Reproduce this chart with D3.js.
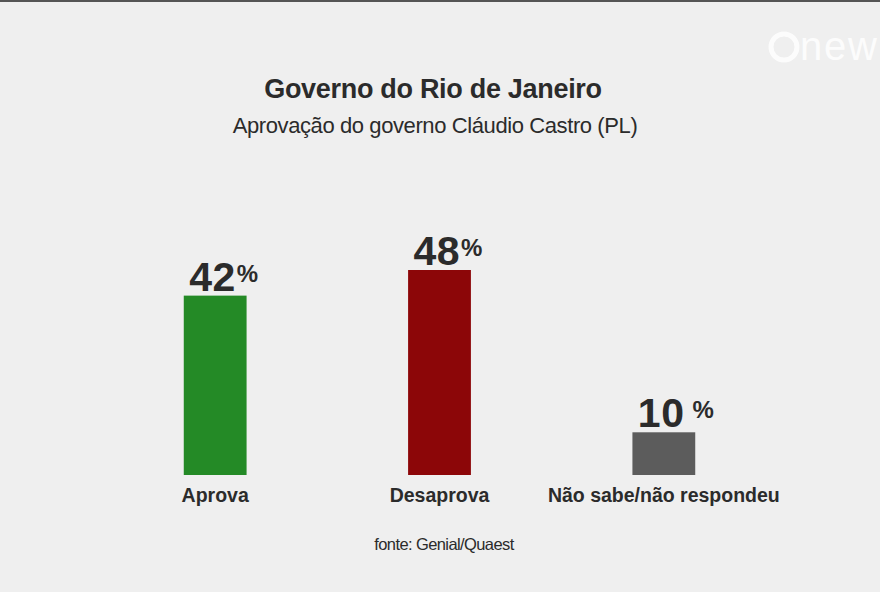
<!DOCTYPE html>
<html>
<head>
<meta charset="utf-8">
<script src="https://cdn.jsdelivr.net/npm/d3@7"></script>
<style>
    html, body { margin: 0; padding: 0; background: #efefef; }
    svg { display: block; font-family: "Liberation Sans", Arial, sans-serif; }
</style>
</head>
<body>
<div id="chart"></div>
<script>
    var categories = ["Aprova", "Desaprova", "Não sabe/não respondeu"];
    var values = [42, 48, 10];
    var colors = ["#248a26", "#8c0608", "#5c5c5c"];
    var title = "Governo do Rio de Janeiro";
    var subtitle = "Aprovação do governo Cláudio Castro (PL)";
    var source = "fonte: Genial/Quaest";

    var width = 880, height = 592;
    var baseline = 475;

    var svg = d3.select("#chart").append("svg")
        .attr("width", width)
        .attr("height", height);

    svg.append("rect")
        .attr("width", width).attr("height", height)
        .attr("fill", "#efefef");

    // thin dark strip at the top edge
    svg.append("rect")
        .attr("width", width).attr("height", 2)
        .attr("fill", "#555");

    // faint channel logo at the right edge
    var logo = svg.append("g").attr("opacity", 0.85);
    logo.append("circle")
        .attr("cx", 784).attr("cy", 47).attr("r", 13)
        .attr("fill", "none").attr("stroke", "#fff").attr("stroke-width", 5);
    logo.append("text")
        .attr("x", 800).attr("y", 60)
        .attr("font-size", 40).attr("fill", "#fff")
        .attr("letter-spacing", -1)
        .attr("textLength", 76)
        .text("new");

    svg.append("text")
        .attr("x", 433).attr("y", 98)
        .attr("text-anchor", "middle")
        .attr("font-size", 27).attr("font-weight", "bold")
        .attr("fill", "#2b2b2b")
        .attr("letter-spacing", -0.3)
        .text(title);

    svg.append("text")
        .attr("x", 435).attr("y", 133)
        .attr("text-anchor", "middle")
        .attr("font-size", 22)
        .attr("fill", "#2b2b2b")
        .attr("letter-spacing", -0.4)
        .text(subtitle);

    var x = d3.scaleBand()
        .domain(categories)
        .range([103, 776])
        .paddingInner(0.72)
        .paddingOuter(0.36);

    var y = d3.scaleLinear()
        .domain([0, 48])
        .range([baseline, 270]);

    svg.selectAll(".bar")
        .data(values)
        .enter()
        .append("rect")
        .attr("class", "bar")
        .attr("x", function(d, i) { return x(categories[i]); })
        .attr("y", function(d) { return y(d); })
        .attr("width", x.bandwidth())
        .attr("height", function(d) { return baseline - y(d); })
        .attr("fill", function(d, i) { return colors[i]; });

    var labels = svg.selectAll(".value-label")
        .data(values)
        .enter()
        .append("text")
        .attr("class", "value-label")
        .attr("x", function(d, i) { return x(categories[i]) + x.bandwidth() / 2 - 26; })
        .attr("y", function(d) { return y(d) - 5; })
        .attr("fill", "#2b2b2b")
        .attr("font-weight", "bold");

    labels.append("tspan")
        .attr("font-size", 41)
        .attr("letter-spacing", 0.5)
        .text(function(d) { return d; });
    labels.append("tspan")
        .attr("font-size", 24)
        .attr("dx", function(d) { return d === 10 ? 8 : 1; })
        .attr("dy", -9)
        .text("%");

    svg.selectAll(".cat-label")
        .data(categories)
        .enter()
        .append("text")
        .attr("class", "cat-label")
        .attr("x", function(d) { return x(d) + x.bandwidth() / 2; })
        .attr("y", 502)
        .attr("text-anchor", "middle")
        .attr("font-size", 19.5)
        .attr("font-weight", "bold")
        .attr("fill", "#2b2b2b")
        .text(function(d) { return d; });

    svg.append("text")
        .attr("x", 444).attr("y", 550)
        .attr("text-anchor", "middle")
        .attr("font-size", 16.5)
        .attr("fill", "#2b2b2b")
        .attr("letter-spacing", -0.6)
        .text(source);
</script>
</body>
</html>
